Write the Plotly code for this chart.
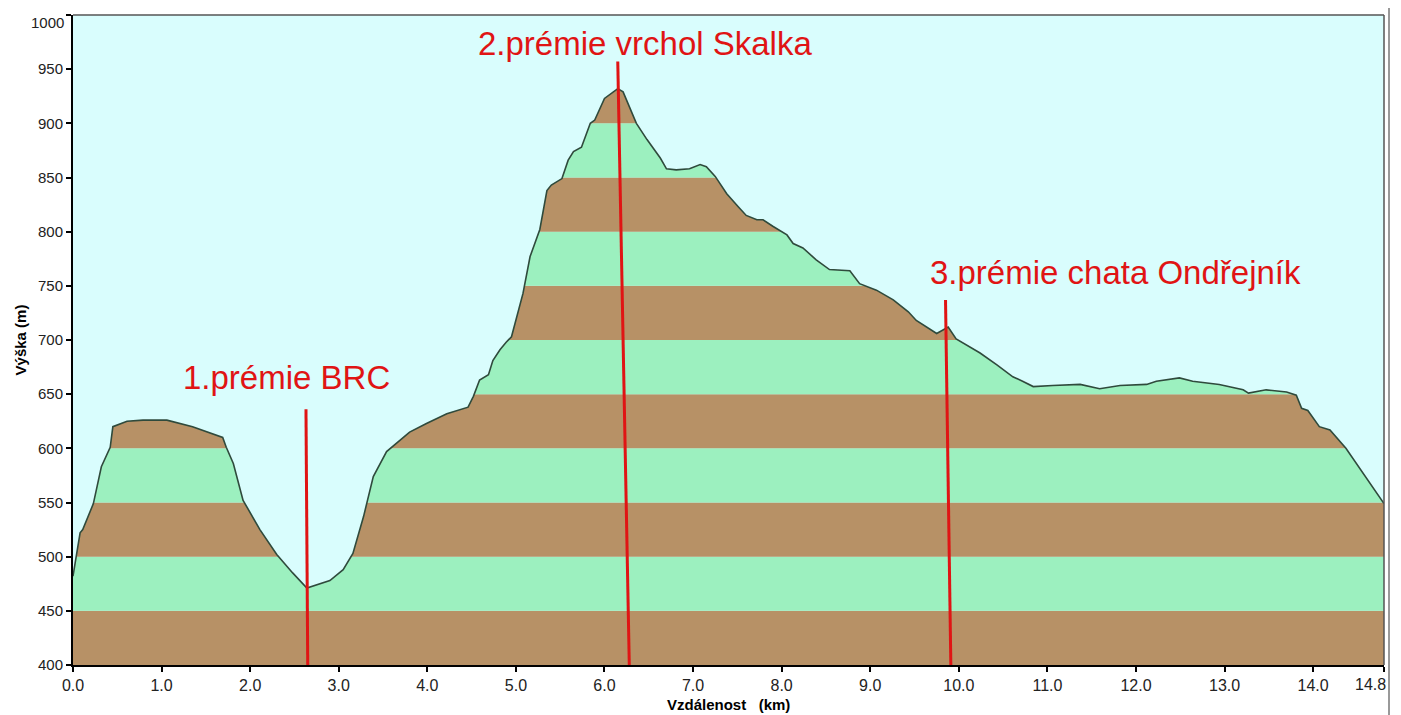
import plotly.graph_objects as go

# Elevation profile (distance km, elevation m)
dist_km = [0.00, 0.04, 0.08, 0.11, 0.23, 0.32, 0.42, 0.45, 0.61, 0.79, 1.06, 1.35, 1.69, 1.73,
           1.81, 1.92, 2.11, 2.30, 2.48, 2.64, 2.71, 2.90, 3.05, 3.16, 3.28, 3.39, 3.54, 3.65,
           3.80, 3.99, 4.22, 4.46, 4.52, 4.59, 4.69, 4.74, 4.82, 4.89, 4.95, 5.08, 5.16, 5.27,
           5.35, 5.40, 5.52, 5.59, 5.65, 5.74, 5.84, 5.89, 6.00, 6.15, 6.21, 6.36, 6.48, 6.63,
           6.70, 6.81, 6.96, 7.08, 7.15, 7.25, 7.38, 7.51, 7.60, 7.72, 7.79, 7.90, 8.06, 8.13,
           8.24, 8.39, 8.54, 8.77, 8.88, 9.07, 9.26, 9.43, 9.52, 9.75, 9.88, 9.97, 10.09, 10.24,
           10.43, 10.61, 10.72, 10.84, 11.06, 11.37, 11.59, 11.82, 12.12, 12.23, 12.49, 12.64,
           12.94, 13.21, 13.27, 13.47, 13.70, 13.81, 13.87, 13.94, 14.07, 14.19, 14.37, 14.56,
           14.80]
elev_m = [482, 503, 522, 525, 549, 583, 601, 620, 625, 626, 626, 620, 610, 601,
          586, 552, 525, 502, 485, 471, 473, 478, 488, 503, 537, 574, 597, 605,
          615, 623, 632, 638, 648, 663, 668, 681, 691, 698, 703, 743, 777, 802,
          838, 843, 849, 866, 874, 878, 900, 903, 923, 932, 929, 900, 885, 868,
          858, 857, 858, 862, 860, 851, 835, 823, 815, 811, 811, 805, 797, 789,
          785, 774, 765, 764, 752, 746, 737, 726, 718, 706, 712, 701, 695, 688,
          677, 666, 662, 657, 658, 659, 655, 658, 659, 662, 665, 662,
          659, 654, 651, 654, 652, 649, 637, 635, 620, 617, 600, 578,
          549]

# Prize markers (red lines): top point and bottom point
marker_labels = ["1.prémie BRC", "2.prémie vrchol Skalka", "3.prémie chata Ondřejník"]
marker_x_top = [2.63, 6.15, 9.85]
marker_x_bottom = [2.65, 6.28, 9.91]
marker_y_top = [636, 957, 737]
label_x = [2.41, 6.46, 11.77]
label_y = [665, 974, 762]

y_ticks = list(range(400, 1001, 50))
y_ticktext = ["400", "450", "500", "550", "600", "650", "700", "750", "800", "850", "900",
              "950", "1000"]
x_tickvals = [0, 1, 2, 3, 4, 5, 6, 7, 8, 9, 10, 11, 12, 13, 14, 14.8]
x_ticktext = ["0.0", "1.0", "2.0", "3.0", "4.0", "5.0", "6.0", "7.0", "8.0", "9.0",
              "10.0", "11.0", "12.0", "13.0", "14.0", "14.8"]

SKY = "#d9fdfd"
GREEN = "#9cf0bf"
BROWN = "#b79166"
Y_MIN, Y_MAX = 400, 1000
X_MAX = 14.8
FONT = "Liberation Sans, Arial"
TICKCOL = "#222222"

W, H = 1401, 715
ML, MR, MT, MB = 73, 17, 15, 50
PW, PH = W - ML - MR, H - MT - MB

fig = go.Figure()

# alternating elevation bands
shapes = []
for i, y0 in enumerate(y_ticks[:-1]):
    shapes.append(dict(type="rect", xref="x", yref="y", x0=0, x1=X_MAX, y0=y0, y1=y0 + 50,
                       fillcolor=BROWN if i % 2 == 0 else GREEN, line=dict(width=0),
                       layer="below"))

# top border, right border, outer frame line
shapes.append(dict(type="line", xref="paper", yref="paper", x0=0, x1=1, y0=1, y1=1,
                   line=dict(color="#555555", width=1.5)))
shapes.append(dict(type="line", xref="paper", yref="paper", x0=1, x1=1, y0=0, y1=1,
                   line=dict(color="#555555", width=1.5)))
shapes.append(dict(type="line", xref="paper", yref="paper", x0=1 + 5 / PW, x1=1 + 5 / PW,
                   y0=-MB / PH, y1=1 + 7 / PH, line=dict(color="#777777", width=1.5)))

# sky above the profile
fig.add_trace(go.Scatter(x=dist_km, y=[Y_MAX] * len(dist_km), mode="lines",
                         line=dict(width=0), hoverinfo="skip", showlegend=False))
fig.add_trace(go.Scatter(x=dist_km, y=elev_m, mode="lines", fill="tonexty",
                         fillcolor=SKY, line=dict(color="#2f4a3c", width=1.6),
                         showlegend=False))

for xt, xb, yt in zip(marker_x_top, marker_x_bottom, marker_y_top):
    fig.add_trace(go.Scatter(x=[xt, xb], y=[yt, Y_MIN], mode="lines",
                             line=dict(color="#e01414", width=3), showlegend=False))

annotations = []
for txt, lx, ly in zip(marker_labels, label_x, label_y):
    annotations.append(dict(x=lx, y=ly, xref="x", yref="y", text=txt, showarrow=False,
                            font=dict(family=FONT, size=33, color="#e01414"),
                            xanchor="center", yanchor="middle"))

# edge tick labels nudged inward (as in the original)
annotations.append(dict(x=0, y=Y_MAX, xref="paper", yref="y", xanchor="right",
                        yanchor="middle", xshift=-7, yshift=-7, text=y_ticktext[-1],
                        showarrow=False, font=dict(family=FONT, size=15, color=TICKCOL)))
annotations.append(dict(x=X_MAX, y=0, xref="x", yref="paper", xanchor="right",
                        yanchor="top", xshift=4, yshift=-9, text=x_ticktext[-1],
                        showarrow=False, font=dict(family=FONT, size=16, color=TICKCOL)))

# x axis title
annotations.append(dict(x=0.5, y=0, xref="paper", yref="paper", yanchor="middle", yshift=-39,
                        text="<b>Vzdálenost\u00a0\u00a0 (km)</b>", showarrow=False,
                        font=dict(family=FONT, size=15, color="black")))

fig.update_layout(
    width=W, height=H,
    margin=dict(l=ML, r=MR, t=MT, b=MB),
    paper_bgcolor="white",
    plot_bgcolor=SKY,
    shapes=shapes,
    annotations=annotations,
    showlegend=False,
    xaxis=dict(range=[0, X_MAX], tickvals=x_tickvals,
               ticktext=x_ticktext[:-1] + [""], automargin=False,
               showgrid=False, zeroline=False, showline=True, linecolor="black", linewidth=2,
               ticks="outside", ticklen=5, tickwidth=2, tickcolor="black",
               tickfont=dict(family=FONT, size=16, color=TICKCOL)),
    yaxis=dict(range=[Y_MIN, Y_MAX], tickvals=y_ticks,
               ticktext=y_ticktext[:-1] + [""], automargin=False,
               showgrid=False, zeroline=False, showline=True, linecolor="black", linewidth=2,
               ticks="outside", ticklen=5, tickwidth=2, tickcolor="black",
               tickfont=dict(family=FONT, size=15, color=TICKCOL),
               title=dict(text="<b>Výška (m)</b>", standoff=8,
                          font=dict(family=FONT, size=15, color="black"))),
)

fig.write_html("out.html", config={"displayModeBar": False},
               post_script="document.body.style.margin='0';document.body.style.overflow='hidden';")
